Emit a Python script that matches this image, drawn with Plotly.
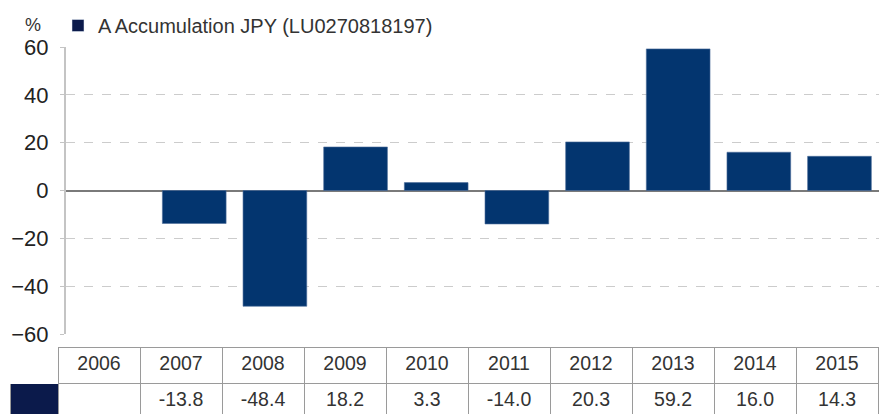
import plotly.graph_objects as go

years = ["2006", "2007", "2008", "2009", "2010", "2011", "2012", "2013", "2014", "2015"]
returns = [None, -13.8, -48.4, 18.2, 3.3, -14.0, 20.3, 59.2, 16.0, 14.3]
series_name = "A Accumulation JPY (LU0270818197)"
y_ticks = [-60, -40, -20, 0, 20, 40, 60]

BAR = "#03356f"
NAVY = "#0b1a4b"
FONT = "Liberation Sans"
W, H = 879, 414

fig = go.Figure()
fig.add_trace(go.Bar(
    x=years, y=returns, marker=dict(color=BAR, line=dict(color="#4d6d9a", width=0.6)),
    width=0.79, showlegend=False, hoverinfo="x+y",
))
fig.add_trace(go.Bar(x=[None], y=[None], name=series_name, marker=dict(color=NAVY), showlegend=True))

header_vals = [""] + years
cell_vals = [[""]] + [["" if v is None else f"{v:.1f}"] for v in returns]
fig.add_trace(go.Table(
    domain=dict(x=[10 / W, 878 / W], y=[0, 1 - 347 / H]),
    columnwidth=[48] + [82] * len(years),
    header=dict(values=header_vals, height=36, align="center",
                fill=dict(color="white"),
                line=dict(color=["white"] + ["#9a9a9a"] * len(years), width=1),
                font=dict(family=FONT, size=19.5, color="#333")),
    cells=dict(values=cell_vals, height=31, align="center",
               fill=dict(color=[NAVY] + ["white"] * len(years)),
               line=dict(color="#9a9a9a", width=1),
               font=dict(family=FONT, size=19.5, color="#333")),
))

fig.update_layout(
    width=W, height=H, margin=dict(l=0, r=0, t=0, b=0, autoexpand=False),
    paper_bgcolor="white", plot_bgcolor="white",
    font=dict(family=FONT, color="#222"),
    bargap=0.21,
    showlegend=True,
    legend=dict(orientation="h", x=58 / W, xanchor="left", y=1 - 6 / H, yanchor="top",
                font=dict(family=FONT, size=20, color="#333"), bgcolor="rgba(0,0,0,0)",
                itemwidth=30),
    xaxis=dict(domain=[66 / W, 1], type="category", range=[-0.59, 9.49],
               showticklabels=False, showgrid=False, showline=False, zeroline=False, ticks=""),
    yaxis=dict(domain=[1 - 334 / H, 1 - 47 / H], range=[-60, 60], tickvals=y_ticks,
               showgrid=True, gridcolor="#cccccc", griddash="dash", gridwidth=1,
               zeroline=True, zerolinecolor="#7a7a7a", zerolinewidth=2,
               showline=True, linecolor="#c4c4c4", linewidth=2,
               ticks="outside", ticklen=4, tickcolor="#c4c4c4", ticklabelstandoff=7,
               tickfont=dict(family=FONT, size=22, color="#222")),
    annotations=[dict(text="%", xref="paper", yref="paper", x=33 / W, y=1 - 25 / H,
                      xanchor="center", yanchor="middle", showarrow=False,
                      font=dict(family=FONT, size=18, color="#333"))],
)

fig.write_html("out.html", config={"displayModeBar": False},
               post_script="document.body.style.margin='0';document.body.style.overflow='hidden';")
